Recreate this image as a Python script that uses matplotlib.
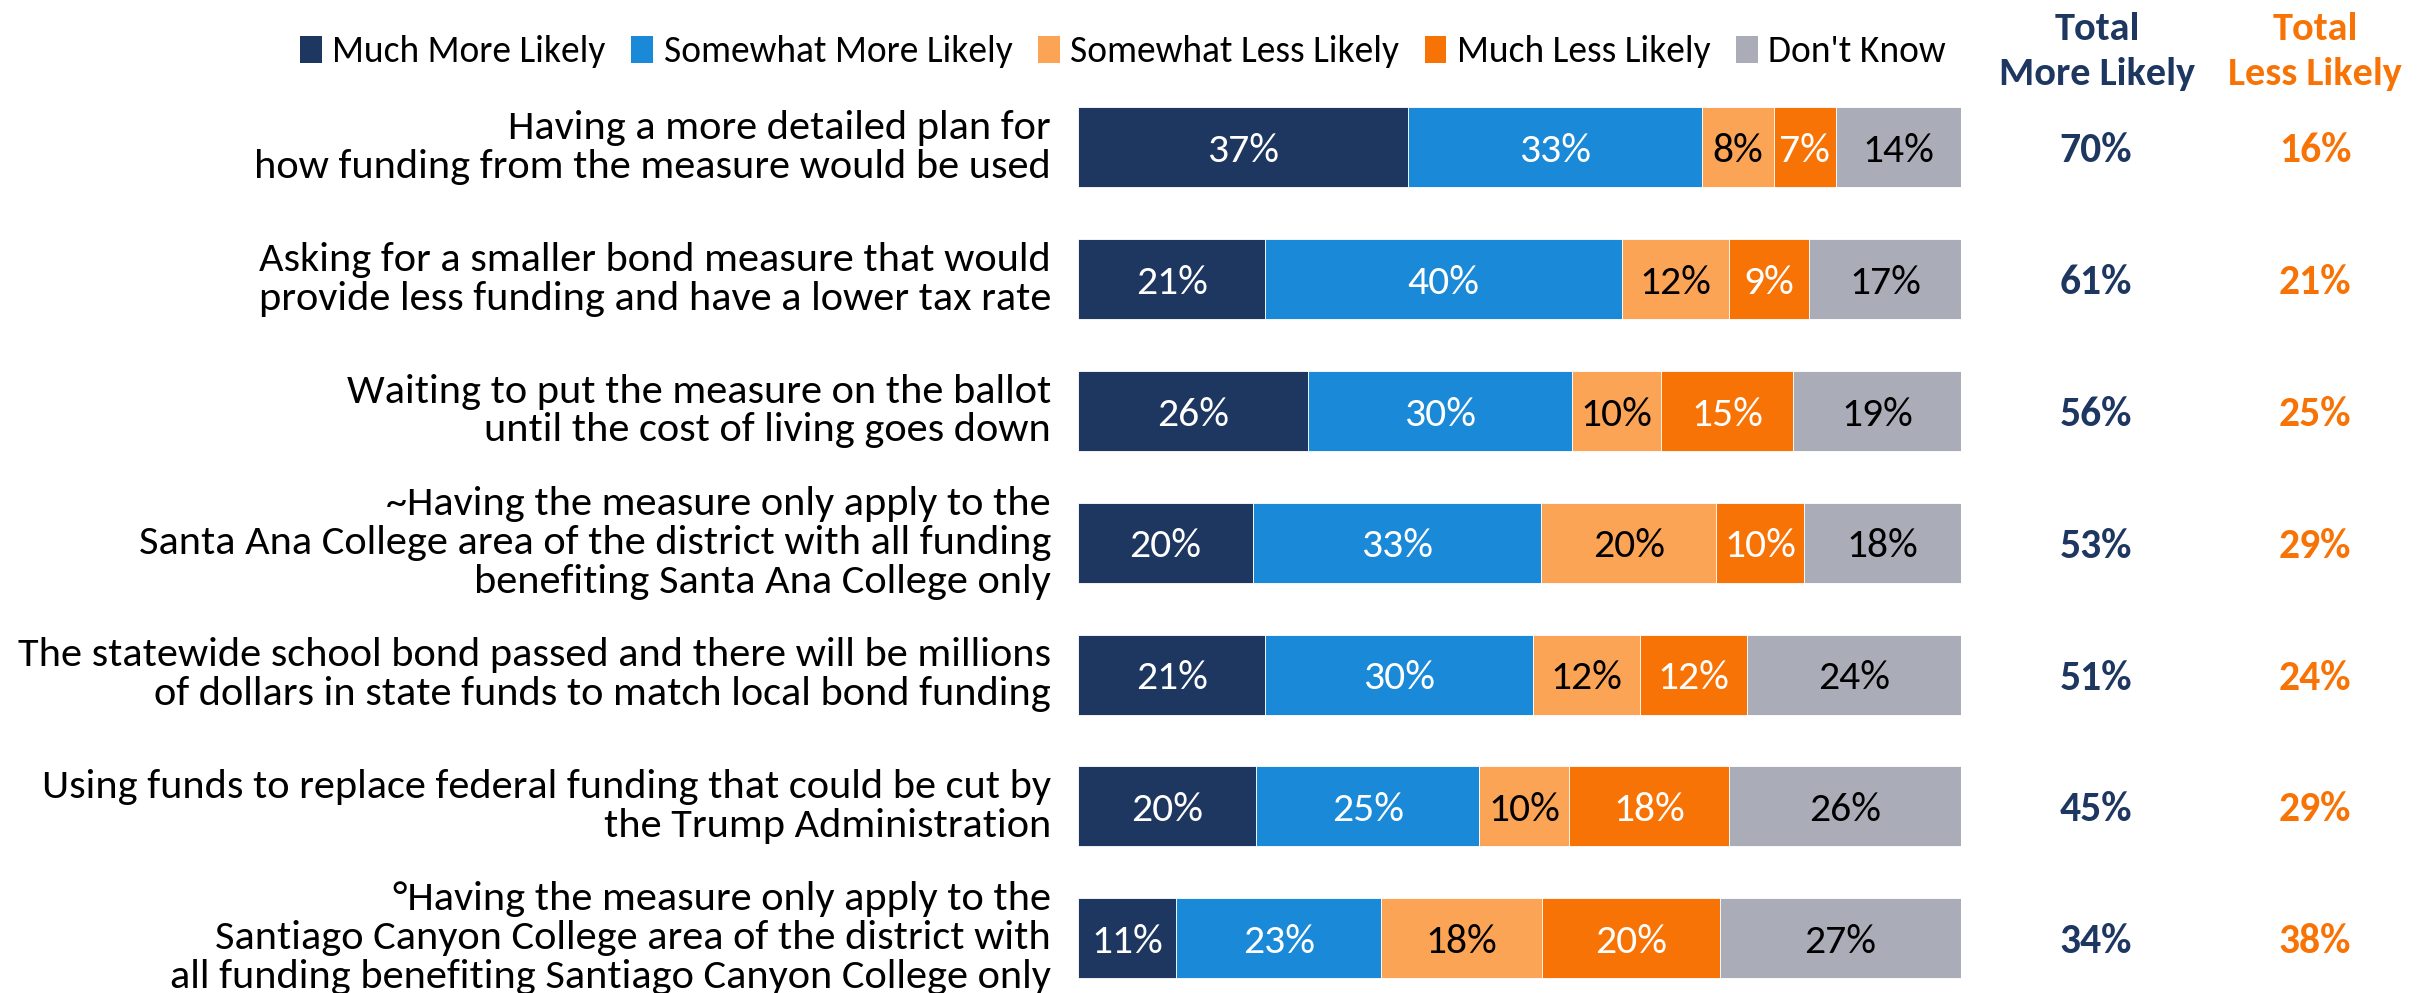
import matplotlib
matplotlib.use("Agg")
import matplotlib.pyplot as plt
from matplotlib import font_manager
from matplotlib.patches import Patch
import numpy as np

categories = [
    "Having a more detailed plan for\nhow funding from the measure would be used",
    "Asking for a smaller bond measure that would\nprovide less funding and have a lower tax rate",
    "Waiting to put the measure on the ballot\nuntil the cost of living goes down",
    "~Having the measure only apply to the\nSanta Ana College area of the district with all funding\nbenefiting Santa Ana College only",
    "The statewide school bond passed and there will be millions\nof dollars in state funds to match local bond funding",
    "Using funds to replace federal funding that could be cut by\nthe Trump Administration",
    "\u00b0Having the measure only apply to the\nSantiago Canyon College area of the district with\nall funding benefiting Santiago Canyon College only",
]
series_names = ["Much More Likely", "Somewhat More Likely", "Somewhat Less Likely",
                "Much Less Likely", "Don't Know"]
much_more = [37, 21, 26, 20, 21, 20, 11]
somewhat_more = [33, 40, 30, 33, 30, 25, 23]
somewhat_less = [8, 12, 10, 20, 12, 10, 18]
much_less = [7, 9, 15, 10, 12, 18, 20]
dont_know = [14, 17, 19, 18, 24, 26, 27]
total_more = [70, 61, 56, 53, 51, 45, 34]
total_less = [16, 21, 25, 29, 24, 29, 38]

colors = ["#1E3761", "#1A89D7", "#FCA456", "#F87306", "#AAACB8"]
text_colors = ["white", "white", "black", "white", "black"]
navy = "#1E3761"
orange = "#F87306"

available = {f.name for f in font_manager.fontManager.ttflist}
font = "DejaVu Sans"
for cand in ["Carlito", "Liberation Sans Narrow", "Open Sans Condensed", "Roboto Condensed", "Lato"]:
    if cand in available:
        font = cand
        break
plt.rcParams["font.family"] = [font, "DejaVu Sans"]

W, H = 2435, 993
fig = plt.figure(figsize=(W / 100, H / 100), dpi=100)
x0, x1 = 1078, 1961
top_px = 81.6
ax = fig.add_axes([x0 / W, 0, (x1 - x0) / W, (H - top_px) / H])

def px_to_data(px):
    return (px - x0) / (x1 - x0) * 100

data = np.array([much_more, somewhat_more, somewhat_less, much_less, dont_know], dtype=float)
norm = data / data.sum(axis=0) * 100
y = np.arange(len(categories))
left = np.zeros(len(categories))
for k in range(5):
    ax.barh(y, norm[k], left=left, height=0.607, color=colors[k],
            edgecolor="white", linewidth=0.6)
    for i in range(len(categories)):
        ax.text(left[i] + norm[k][i] / 2, y[i], f"{int(data[k][i])}%",
                ha="center", va="center_baseline", color=text_colors[k], fontsize=30)
    left += norm[k]

ax.set_xlim(0, 100)
ax.set_ylim(6.417, -0.5)
ax.axis("off")

for i, cat in enumerate(categories):
    ax.text(px_to_data(1051), y[i], cat, ha="right", va="center", fontsize=30.5,
            linespacing=1.1, color="black")
    ax.text(px_to_data(2096), y[i], f"{total_more[i]}%", ha="center", va="center_baseline",
            fontsize=30, fontweight="bold", color=navy, clip_on=False)
    ax.text(px_to_data(2315), y[i], f"{total_less[i]}%", ha="center", va="center_baseline",
            fontsize=30, fontweight="bold", color=orange, clip_on=False)

fig.text(2097 / W, 1 - 85 / H, "Total\nMore Likely", ha="center", va="baseline",
         fontsize=29, fontweight="bold", color=navy, linespacing=1.4)
fig.text(2315 / W, 1 - 85 / H, "Total\nLess Likely", ha="center", va="baseline",
         fontsize=29, fontweight="bold", color=orange, linespacing=1.4)

handles = [Patch(facecolor=c, edgecolor="none") for c in colors]
fig.legend(handles, series_names, loc="center", bbox_to_anchor=(1123 / W, 1 - 52 / H),
           ncol=5, frameon=False, fontsize=27, handlelength=0.58, handleheight=0.7,
           handletextpad=0.28, columnspacing=0.68, borderpad=0, borderaxespad=0)

fig.savefig("out.png", dpi=100)
